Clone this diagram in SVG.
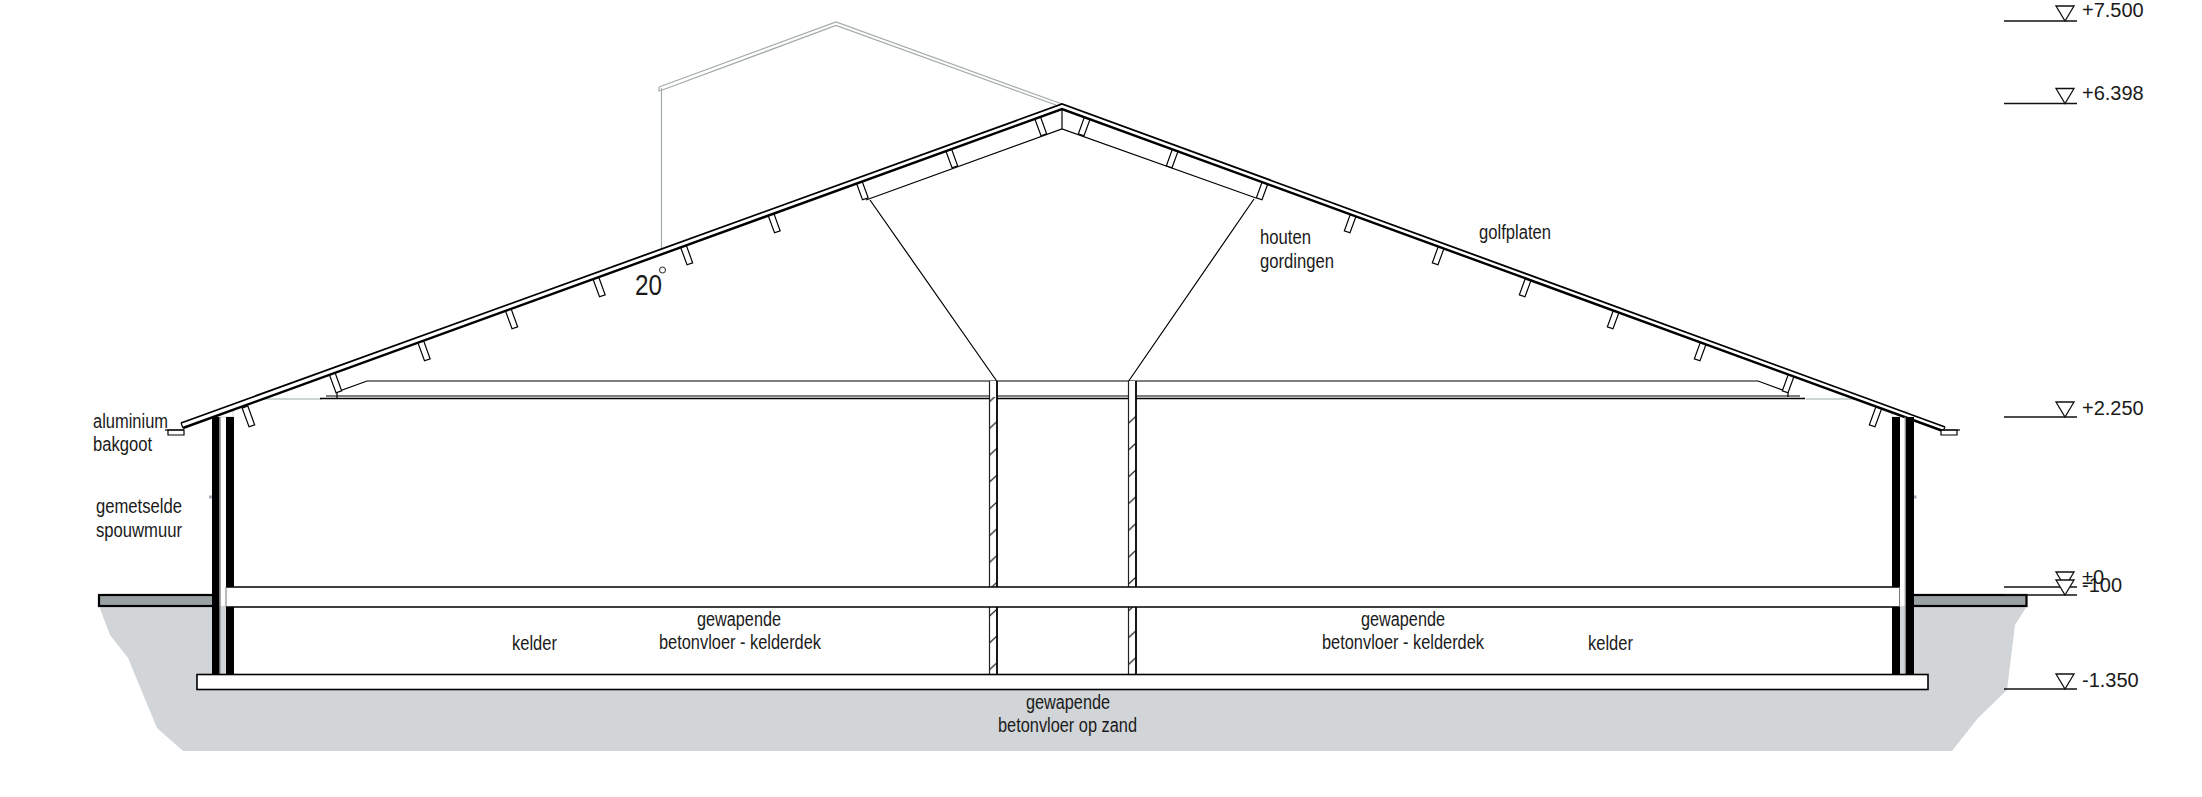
<svg xmlns="http://www.w3.org/2000/svg" width="2202" height="797" viewBox="0 0 2202 797">
<style>
text{font-family:"Liberation Sans",Arial,sans-serif;fill:#1a1a1a}
.lb{font-size:20px}
.lv{font-size:20px}
.k{fill:none;stroke:#000;stroke-width:1.2}
.r{fill:#fff;stroke:#000;stroke-width:1.2}
.g{fill:none;stroke:#a3abab;stroke-width:1.2}
.w{fill:#000}
</style>
<defs>
<g id="purlin"><rect x="-3" y="0" width="6" height="20" fill="#fff" stroke="#000" stroke-width="1.200"/></g>
<g id="lvl"><path d="M0 0H73" stroke="#111" stroke-width="1.400" fill="none"/><path d="M52 -15H70L61 0Z" fill="#fff" stroke="#111" stroke-width="1.300"/></g>
<pattern id="hatch1" x="989.500" y="19.500" width="7.500" height="26.800" patternUnits="userSpaceOnUse"><path d="M0 7L7.500 0" stroke="#000" stroke-width="1"/></pattern>
<pattern id="hatch2" x="1128.500" y="14.300" width="7.500" height="26.800" patternUnits="userSpaceOnUse"><path d="M0 7L7.500 0" stroke="#000" stroke-width="1"/></pattern>
</defs>
<g id="ground">
<path d="M99 606H2027L2015 625L2007 690L1978 718L1952 751H183L157 728L128 658L110 635Z" fill="#d1d5d7"/>
<rect x="226" y="600" width="1674" height="76" fill="#fff"/>
<rect x="99" y="595" width="115" height="11" fill="#99a1a3" stroke="#000" stroke-width="2.200"/>
<rect x="1912" y="595" width="114.500" height="11" fill="#99a1a3" stroke="#000" stroke-width="2.200"/>
</g>
<g id="ghost-roof">
<path class="g" d="M661.500 88V250"/>
<path class="g" d="M659 87V91L661 90.500L836 25.500L1056 105M659 87L836 22L1062 104"/>
</g>
<g id="ceiling">
<path d="M264 399H322M1806 399H1862" stroke="#9aa" stroke-width="1" fill="none"/>
<path d="M320 398.500H1805" stroke="#000" stroke-width="1.600" fill="none"/>
<path d="M326 396H1800" stroke="#000" stroke-width="1" fill="none"/>
<path class="k" d="M337 398V392L367 381H1758L1788 392V397"/>
</g>
<g id="truss">
<path class="k" d="M866 200L1062 129L1256 198M1062 104V129M870 200L996.700 381M1254 199L1128.700 381"/>
</g>
<g id="purlins">
<use href="#purlin" transform="translate(245 407) rotate(-20)"/>
<use href="#purlin" transform="translate(332 373) rotate(-20)"/>
<use href="#purlin" transform="translate(420.500 341) rotate(-20)"/>
<use href="#purlin" transform="translate(508 309) rotate(-20)"/>
<use href="#purlin" transform="translate(595.500 277) rotate(-20)"/>
<use href="#purlin" transform="translate(683 245) rotate(-20)"/>
<use href="#purlin" transform="translate(770.500 213) rotate(-20)"/>
<use href="#purlin" transform="translate(858.500 180) rotate(-20)"/>
<use href="#purlin" transform="translate(948 148) rotate(-20)"/>
<use href="#purlin" transform="translate(1037 116) rotate(-20)"/>
<use href="#purlin" transform="translate(1088 116) rotate(20)"/>
<use href="#purlin" transform="translate(1176 148) rotate(20)"/>
<use href="#purlin" transform="translate(1266 180) rotate(20)"/>
<use href="#purlin" transform="translate(1354 213) rotate(20)"/>
<use href="#purlin" transform="translate(1442 245) rotate(20)"/>
<use href="#purlin" transform="translate(1529 277) rotate(20)"/>
<use href="#purlin" transform="translate(1617 309) rotate(20)"/>
<use href="#purlin" transform="translate(1704 341) rotate(20)"/>
<use href="#purlin" transform="translate(1792 373) rotate(20)"/>
<use href="#purlin" transform="translate(1879 407) rotate(20)"/>
</g>
<g id="wall-caps">
<rect x="217" y="411" width="16" height="6" fill="#fff" stroke="#bbb" stroke-width=".6"/>
<rect x="1892" y="411" width="16" height="6" fill="#fff" stroke="#bbb" stroke-width=".6"/>
</g>
<g id="roof">
<path d="M181 423L1062 104L1945 427L1943 431L1062 109L183 428Z" fill="#fff"/>
<path d="M181 423L1062 104L1945 427" fill="none" stroke="#000" stroke-width="1.800"/>
<path d="M183 428L1062 109L1943 431" fill="none" stroke="#000" stroke-width="2.400"/>
<path d="M181 423L183 428M1945 427L1943 431" class="k"/>
</g>
<g id="gutters">
<path class="r" d="M168 430H184V435H168Z"/><path class="k" d="M165 430H184"/>
<path class="r" d="M1941 430H1957V435H1941Z"/><path class="k" d="M1941 430H1960"/>
</g>
<g id="walls">
<rect x="212" y="417" width="7.500" height="258" class="w"/>
<rect x="226" y="417" width="8" height="258" class="w"/>
<path d="M220.500 417V675" stroke="#aaa" stroke-width="1" fill="none"/>
<rect x="1892" y="417" width="8" height="258" class="w"/>
<rect x="1905.500" y="417" width="8.500" height="258" class="w"/>
<path d="M1905 417V675" stroke="#aaa" stroke-width="1" fill="none"/>
<rect x="209" y="495.500" width="3" height="3" fill="#aab"/>
<rect x="1914" y="495.500" width="2.500" height="3" fill="#aab"/>
</g>
<g id="columns">
<rect x="989.500" y="381" width="7.500" height="294" fill="#fff"/>
<rect x="1128.500" y="381" width="7.500" height="294" fill="#fff"/>
<rect x="989.500" y="397" width="7.500" height="278" fill="url(#hatch1)"/>
<rect x="1128.500" y="397" width="7.500" height="278" fill="url(#hatch2)"/>
<path d="M989.500 381V675M1128.500 381V675" stroke="#222" stroke-width="1.200" fill="none"/>
<path d="M997 381V675M1136 381V675" stroke="#000" stroke-width="1.800" fill="none"/>
</g>
<g id="slabs">
<rect x="226" y="587" width="1673.500" height="20" fill="#fff"/>
<path d="M226 587H1899.500M226 607H1899.500" stroke="#000" stroke-width="1.300" fill="none"/>
<path d="M226 587V607M1899.500 587V607" stroke="#777" stroke-width="1" fill="none"/>
<rect x="197" y="674.500" width="1731" height="15" fill="#fff" stroke="#000" stroke-width="1.600"/>
</g>
<g id="levels">
<use href="#lvl" transform="translate(2004 21)"/>
<use href="#lvl" transform="translate(2004 103.500)"/>
<use href="#lvl" transform="translate(2004 417)"/>
<use href="#lvl" transform="translate(2004 587)"/>
<use href="#lvl" transform="translate(2004 595)"/>
<use href="#lvl" transform="translate(2004 689)"/>
<text class="lv" x="2082" y="17">+7.500</text>
<text class="lv" x="2082" y="100">+6.398</text>
<text class="lv" x="2082" y="415">+2.250</text>
<text class="lv" x="2082" y="584">±0</text>
<text class="lv" x="2082" y="592">-100</text>
<text class="lv" x="2082" y="687">-1.350</text>
</g>
<g id="labels">
<text class="lb" x="93" y="428" textLength="75" lengthAdjust="spacingAndGlyphs">aluminium</text>
<text class="lb" x="93" y="451" textLength="59" lengthAdjust="spacingAndGlyphs">bakgoot</text>
<text class="lb" x="96" y="513" textLength="86" lengthAdjust="spacingAndGlyphs">gemetselde</text>
<text class="lb" x="96" y="537" textLength="86" lengthAdjust="spacingAndGlyphs">spouwmuur</text>
<text class="lb" x="512" y="650" textLength="45" lengthAdjust="spacingAndGlyphs">kelder</text>
<text class="lb" x="697" y="626" textLength="84" lengthAdjust="spacingAndGlyphs">gewapende</text>
<text class="lb" x="659" y="649" textLength="162" lengthAdjust="spacingAndGlyphs">betonvloer - kelderdek</text>
<text class="lb" x="1361" y="626" textLength="84" lengthAdjust="spacingAndGlyphs">gewapende</text>
<text class="lb" x="1322" y="649" textLength="162" lengthAdjust="spacingAndGlyphs">betonvloer - kelderdek</text>
<text class="lb" x="1588" y="650" textLength="45" lengthAdjust="spacingAndGlyphs">kelder</text>
<text class="lb" x="1026" y="709" textLength="84" lengthAdjust="spacingAndGlyphs">gewapende</text>
<text class="lb" x="998" y="732" textLength="139" lengthAdjust="spacingAndGlyphs">betonvloer op zand</text>
<text class="lb" x="1260" y="244" textLength="51" lengthAdjust="spacingAndGlyphs">houten</text>
<text class="lb" x="1260" y="268" textLength="74" lengthAdjust="spacingAndGlyphs">gordingen</text>
<text class="lb" x="1479" y="239" textLength="72" lengthAdjust="spacingAndGlyphs">golfplaten</text>
<text x="635" y="295" font-size="29" textLength="27" lengthAdjust="spacingAndGlyphs">20</text>
<circle cx="662.500" cy="270" r="3" fill="none" stroke="#222" stroke-width="1"/>
</g>
</svg>
